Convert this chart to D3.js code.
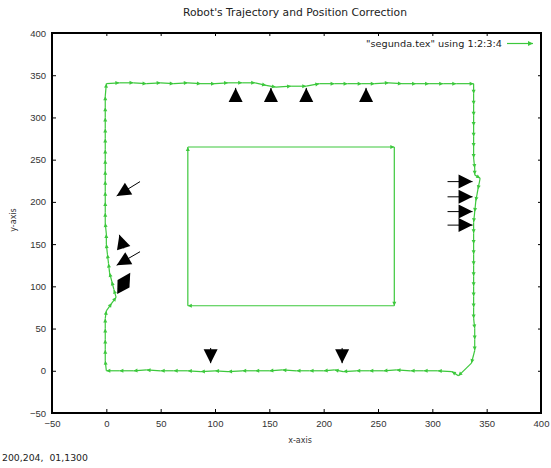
<!DOCTYPE html>
<html>
<head>
<meta charset="utf-8">
<script src="https://cdn.jsdelivr.net/npm/d3@7"></script>
<style>
  html, body { margin: 0; padding: 0; background: #fff; }
  svg { display: block; font-family: "DejaVu Sans", sans-serif; }
  text { white-space: pre; }
</style>
</head>
<body>
<svg id="chart" width="551" height="468"></svg>
<script>
const X_TICKS = [-50, 0, 50, 100, 150, 200, 250, 300, 350, 400];
const Y_TICKS = [-50, 0, 50, 100, 150, 200, 250, 300, 350, 400];

// robot path (clockwise from the origin)
const leftSide = [
  [0, 0], [-1, 12], [-1, 25], [-1, 37], [-1, 50], [-1, 62], [0, 71], [5, 80], [9, 87],
  [7, 96], [5, 106], [3, 116], [2, 127], [1, 138], [0, 150], [0, 162], [-1, 175],
  [-1, 187], [-1, 200], [-1, 212], [-1, 225], [-1, 237], [-1, 250], [-1, 262],
  [-1, 275], [-1, 287], [-1, 300], [-1, 312], [-1, 325], [0, 340]
];
const topSide = [
  [12, 341], [25, 341], [37, 340], [50, 341], [62, 340], [75, 341], [87, 340],
  [100, 340], [112, 341], [125, 341], [137, 341], [147, 338], [156, 336], [170, 337],
  [184, 337], [196, 340], [210, 340], [222, 340], [235, 340], [247, 340], [260, 341],
  [272, 340], [285, 340], [297, 340], [310, 340], [322, 340], [338, 340]
];
const rightSide = [
  [338, 328], [338, 315], [338, 302], [338, 290], [338, 277], [338, 265], [338, 252],
  [339, 240], [339, 232], [344, 228], [342, 215], [340, 201], [339, 188], [338, 176],
  [338, 163], [338, 150], [338, 138], [338, 125], [338, 112], [338, 100], [338, 88],
  [338, 75], [338, 62], [339, 50], [339, 37], [339, 24], [336, 9], [324, -6]
];
const bottomSide = [
  [318, -1], [305, 0], [292, 0], [280, 0], [267, 1], [255, 0], [242, 0], [230, 0],
  [218, -1], [210, 1], [200, 0], [187, 0], [175, 0], [162, 1], [150, 0], [137, 0],
  [125, 0], [112, -1], [100, 0], [87, -1], [75, 0], [62, 0], [50, 0], [37, 1],
  [25, 0], [12, 0], [0, 0]
];
// planned square
const innerSquare = [[75, 77], [75, 265], [265, 265], [265, 77], [75, 77]];

// position corrections: [x tail, y tail, x tip, y tip]
const corrections = [
  [119, 320, 119, 335], [151.5, 320, 151.5, 335], [184, 320, 184, 335], [239, 320, 239, 335],
  [96, 27, 96, 9], [217, 27, 217, 9],
  [314, 224, 337, 224], [314, 206, 337, 206], [314, 188.5, 337, 188.5], [314, 172.5, 337, 172.5],
  [31, 224, 9.5, 207], [16, 145, 12, 161], [31, 141, 9.5, 125]
];
const bentCorrection = [22, 116, 10, 91];

const LEGEND_LABEL = "\"segunda.tex\" using 1:2:3:4";
const TITLE = "Robot's Trajectory and Position Correction";
const STATUS = "200,204,  01,1300";

const green = "#3cc83c";
const svg = d3.select("#chart");
const x = d3.scaleLinear().domain([-50, 400]).range([52, 541]);
const y = d3.scaleLinear().domain([-50, 400]).range([413, 33]);

function head(tx, ty, ux, uy, len, half) {
  const nx = -uy, ny = ux;
  return [[tx, ty], [tx - len * ux + half * nx, ty - len * uy + half * ny], [tx - len * ux - half * nx, ty - len * uy - half * ny]];
}

function unit(x1, y1, x2, y2) {
  const d = Math.hypot(x2 - x1, y2 - y1) || 1;
  return [(x2 - x1) / d, (y2 - y1) / d];
}

// axes (ticks inside, mirrored)
const gx = svg.append("g").attr("transform", `translate(0,${y(-50)})`)
  .call(d3.axisBottom(x).tickValues(X_TICKS).tickSizeInner(-4).tickSizeOuter(0).tickPadding(7));
const gy = svg.append("g").attr("transform", `translate(${x(-50)},0)`)
  .call(d3.axisLeft(y).tickValues(Y_TICKS).tickSizeInner(-4).tickSizeOuter(0).tickPadding(6));
svg.append("g").attr("transform", `translate(0,${y(400)})`)
  .call(d3.axisTop(x).tickValues(X_TICKS).tickSizeInner(-3).tickSizeOuter(0).tickFormat(""));
svg.append("g").attr("transform", `translate(${x(400)},0)`)
  .call(d3.axisRight(y).tickValues(Y_TICKS).tickSizeInner(-3).tickSizeOuter(0).tickFormat(""));
svg.selectAll(".domain").remove();
svg.selectAll(".tick line").attr("stroke", "#000");
[gx, gy].forEach((g) => g.selectAll("text").attr("font-size", 9.5).attr("fill", "#333"));

// frame
svg.append("rect")
  .attr("x", x(-50)).attr("y", y(400))
  .attr("width", x(400) - x(-50)).attr("height", y(-50) - y(400))
  .attr("fill", "none").attr("stroke", "#000").attr("stroke-width", 2);

// trajectory as vectors
const path = [...leftSide, ...topSide, ...rightSide, ...bottomSide];
function drawVectors(points) {
  const g = svg.append("g");
  for (let i = 1; i < points.length; i++) {
    const [x1, y1] = [x(points[i - 1][0]), y(points[i - 1][1])];
    const [x2, y2] = [x(points[i][0]), y(points[i][1])];
    g.append("line").attr("x1", x1).attr("y1", y1).attr("x2", x2).attr("y2", y2)
      .attr("stroke", green).attr("stroke-width", 1.2);
    const [ux, uy] = unit(x1, y1, x2, y2);
    g.append("polygon").attr("points", head(x2, y2, ux, uy, 4, 2).join(" ")).attr("fill", green);
  }
}
drawVectors(path);
drawVectors(innerSquare);

// black correction arrows
const ga = svg.append("g");
corrections.forEach(([x1d, y1d, x2d, y2d]) => {
  const [x1, y1, x2, y2] = [x(x1d), y(y1d), x(x2d), y(y2d)];
  const [ux, uy] = unit(x1, y1, x2, y2);
  ga.append("line").attr("x1", x1).attr("y1", y1).attr("x2", x2).attr("y2", y2).attr("stroke", "#000");
  ga.append("polygon").attr("points", head(x2, y2, ux, uy, 14, 7).join(" ")).attr("fill", "#000");
});
{
  const [x1d, y1d, x2d, y2d] = bentCorrection;
  const [x1, y1, x2, y2] = [x(x1d), y(y1d), x(x2d), y(y2d)];
  const [ux, uy] = unit(x1, y1, x2, y2);
  const nx = -uy, ny = ux;
  const pts = [[x2, y2], [x2 - 12 * ux + 7 * nx, y2 - 12 * uy + 7 * ny], [x1, y1], [x2 - 12 * ux - 7 * nx, y2 - 12 * uy - 7 * ny]];
  ga.append("polygon").attr("points", pts.join(" ")).attr("fill", "#000");
}

// legend
svg.append("text").attr("x", 502).attr("y", 47).attr("text-anchor", "end")
  .attr("font-size", 9).attr("textLength", 136).attr("lengthAdjust", "spacingAndGlyphs")
  .attr("fill", "#222").text(LEGEND_LABEL);
svg.append("line").attr("x1", 507).attr("y1", 43.5).attr("x2", 533).attr("y2", 43.5)
  .attr("stroke", green).attr("stroke-width", 1.2);
svg.append("polygon").attr("points", head(533, 43.5, 1, 0, 5, 2.5).join(" ")).attr("fill", green);

// titles
svg.append("text").attr("x", 295).attr("y", 16).attr("text-anchor", "middle")
  .attr("font-size", 10).attr("textLength", 224).attr("lengthAdjust", "spacingAndGlyphs")
  .attr("fill", "#222").text(TITLE);
svg.append("text").attr("x", 300).attr("y", 443).attr("text-anchor", "middle")
  .attr("font-size", 8).attr("fill", "#333").text("x-axis");
svg.append("text").attr("transform", "translate(16,220) rotate(-90)").attr("text-anchor", "middle")
  .attr("font-size", 8).attr("fill", "#333").text("y-axis");
svg.append("text").attr("x", 2).attr("y", 461).attr("font-size", 9)
  .attr("textLength", 86).attr("lengthAdjust", "spacingAndGlyphs").attr("fill", "#222").text(STATUS);
</script>
</body>
</html>
